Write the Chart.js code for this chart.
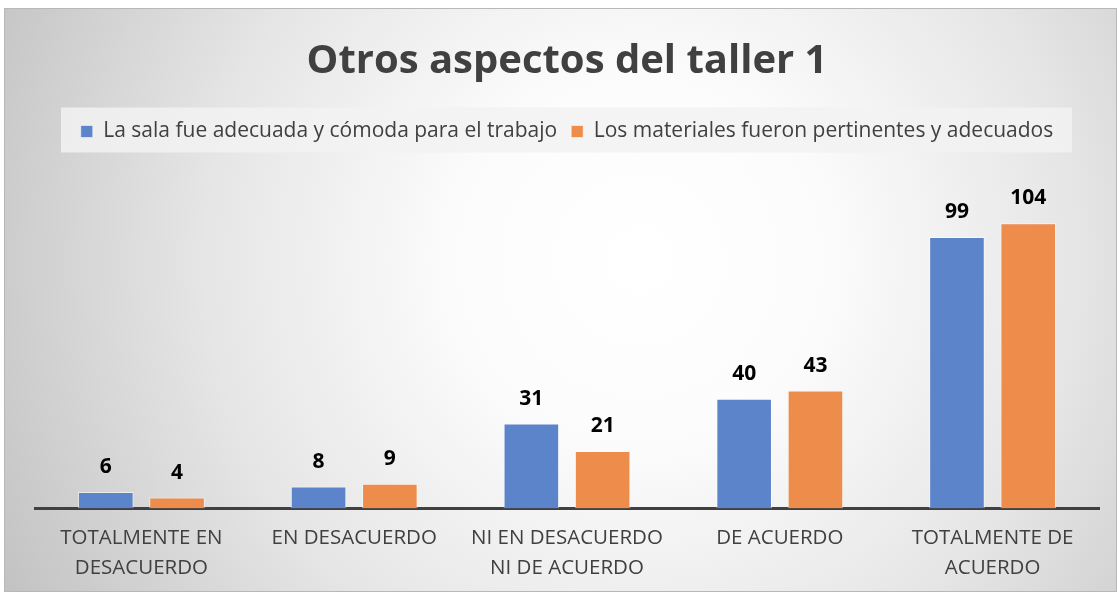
<!DOCTYPE html>
<html>
<head>
<meta charset="utf-8">
<script src="https://cdn.jsdelivr.net/npm/chart.js@4.4.1/dist/chart.umd.min.js"></script>
<style>
  html, body { margin: 0; padding: 0; background: #fff; }
  #wrap { position: absolute; left: 0; top: 0; width: 1117px; height: 592px; }
</style>
</head>
<body>
<div id="wrap"><canvas id="chart"></canvas></div>
<script>
// data
var categories = [
  ["TOTALMENTE EN", "DESACUERDO"],
  "EN DESACUERDO",
  ["NI EN DESACUERDO", "NI DE ACUERDO"],
  "DE ACUERDO",
  ["TOTALMENTE DE", "ACUERDO"]
];
var salaValues = [6, 8, 31, 40, 99];
var materialesValues = [4, 9, 21, 43, 104];
var seriesNames = [
  "La sala fue adecuada y cómoda para el trabajo",
  "Los materiales fueron pertinentes y adecuados"
];
var chartTitle = "Otros aspectos del taller 1";

var fontFamily = "'Open Sans', 'Noto Sans', sans-serif";

// gradient background behind everything
var backgroundPlugin = {
  id: "bgPaint",
  beforeDraw: function (chart) {
    var ctx = chart.ctx;
    var w = chart.width, h = chart.height;
    ctx.save();
    ctx.fillStyle = "#ffffff";
    ctx.fillRect(0, 0, w, h);
    var g = ctx.createRadialGradient(640, 260, 0, 640, 260, 720);
    g.addColorStop(0, "#ffffff");
    g.addColorStop(0.25, "#fcfcfc");
    g.addColorStop(0.6, "#e6e6e6");
    g.addColorStop(1, "#c2c2c2");
    ctx.fillStyle = g;
    ctx.fillRect(4, 8, w - 4, h - 8);
    ctx.strokeStyle = "#b8b8b8";
    ctx.lineWidth = 1;
    ctx.strokeRect(4.5, 8.5, w - 5, h - 9);

    // light band behind the legend
    var lg = chart.legend;
    if (lg) {
      var mid = lg.top + lg.height / 2;
      ctx.fillStyle = "rgba(242,242,242,0.85)";
      ctx.fillRect(61, mid - 22, 1011, 45);
    }
    ctx.restore();
  }
};

// value labels above the bars
var valueLabels = {
  id: "valueLabels",
  afterDatasetsDraw: function (chart) {
    var ctx = chart.ctx;
    ctx.save();
    ctx.font = "bold 21px " + fontFamily;
    ctx.fillStyle = "#000000";
    ctx.textAlign = "center";
    ctx.textBaseline = "middle";
    chart.data.datasets.forEach(function (ds, i) {
      var meta = chart.getDatasetMeta(i);
      meta.data.forEach(function (bar, j) {
        ctx.fillText(ds.data[j], bar.x, bar.y - 25);
      });
    });
    ctx.restore();
  }
};

var ctx = document.getElementById("chart").getContext("2d");
var chart = new Chart(ctx, {
  type: "bar",
  data: {
    labels: categories,
    datasets: [
      {
        label: seriesNames[0],
        data: salaValues,
        backgroundColor: "#5b84ca",
        borderColor: "rgba(255,255,255,0.55)",
        borderWidth: 1,
        categoryPercentage: 0.67,
        barPercentage: 0.78
      },
      {
        label: seriesNames[1],
        data: materialesValues,
        backgroundColor: "#ee8c4b",
        borderColor: "rgba(255,255,255,0.55)",
        borderWidth: 1,
        categoryPercentage: 0.67,
        barPercentage: 0.78
      }
    ]
  },
  options: {
    responsive: true,
    maintainAspectRatio: false,
    animation: false,
    layout: { padding: { left: 35, right: 18, top: 38, bottom: 2 } },
    plugins: {
      title: {
        display: true,
        text: chartTitle,
        color: "#404040",
        font: { family: fontFamily, size: 40, weight: "bold" },
        padding: { top: 0, bottom: 21 }
      },
      legend: {
        position: "top",
        labels: {
          color: "#404040",
          font: { family: fontFamily, size: 21 },
          boxWidth: 12,
          boxHeight: 12,
          padding: 14
        }
      },
      tooltip: { enabled: false }
    },
    scales: {
      x: {
        grid: { display: false },
        border: { display: true, color: "#404040", width: 3 },
        ticks: {
          color: "#404040",
          font: { family: fontFamily, size: 20.5, lineHeight: 1.45 },
          maxRotation: 0,
          padding: 7
        }
      },
      y: {
        display: false,
        min: 0,
        max: 130
      }
    }
  },
  plugins: [backgroundPlugin, valueLabels]
});
</script>
</body>
</html>
